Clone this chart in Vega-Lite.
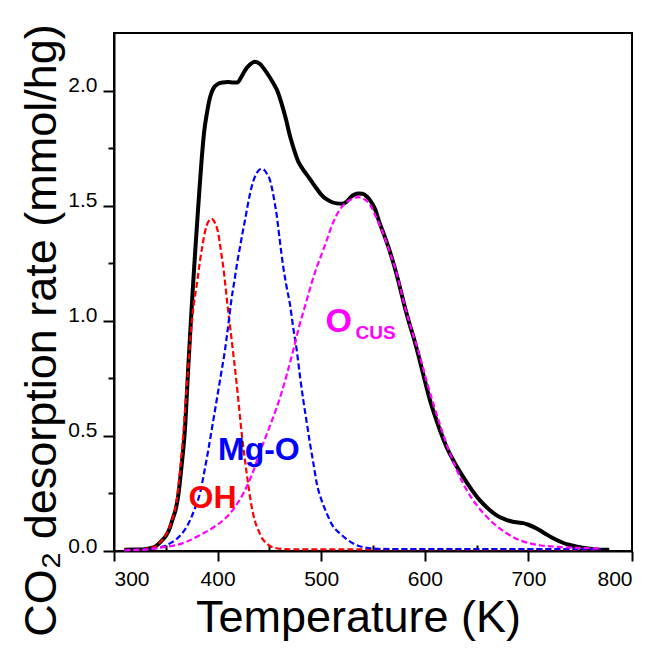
{
  "$schema": "https://vega.github.io/schema/vega-lite/v6.json",
  "width": 518,
  "height": 518,
  "autosize": "none",
  "padding": {"left": 114, "top": 33, "right": 20, "bottom": 97},
  "background": "white",
  "config": {"view": {"stroke": "black", "strokeWidth": 2}, "font": "Liberation Sans"},
  "datasets": {
    "total": [
      {"T":310,"rate":0.005},{"T":320,"rate":0.006},{"T":330,"rate":0.008},{"T":335,"rate":0.012},{"T":340,"rate":0.02},{"T":345,"rate":0.04},{"T":350,"rate":0.065},{"T":353,"rate":0.09},{"T":356,"rate":0.13},{"T":360,"rate":0.19},{"T":362,"rate":0.24},{"T":365,"rate":0.36},{"T":368.5,"rate":0.53},{"T":371.7,"rate":0.8},{"T":375,"rate":1.06},{"T":377.5,"rate":1.24},{"T":380,"rate":1.41},{"T":382.3,"rate":1.56},{"T":384.6,"rate":1.7},{"T":387,"rate":1.82},{"T":390,"rate":1.91},{"T":393,"rate":1.975},{"T":396,"rate":2.01},{"T":400,"rate":2.028},{"T":405,"rate":2.035},{"T":410,"rate":2.037},{"T":415,"rate":2.035},{"T":419,"rate":2.035},{"T":423,"rate":2.06},{"T":426.5,"rate":2.088},{"T":431,"rate":2.112},{"T":436,"rate":2.125},{"T":441,"rate":2.115},{"T":445,"rate":2.093},{"T":450,"rate":2.06},{"T":454,"rate":2.03},{"T":458,"rate":1.995},{"T":462,"rate":1.94},{"T":466,"rate":1.875},{"T":470,"rate":1.8},{"T":474,"rate":1.74},{"T":478,"rate":1.69},{"T":482,"rate":1.66},{"T":486,"rate":1.635},{"T":490,"rate":1.61},{"T":495,"rate":1.578},{"T":500,"rate":1.548},{"T":505,"rate":1.528},{"T":510,"rate":1.516},{"T":515,"rate":1.51},{"T":520,"rate":1.508},{"T":524,"rate":1.515},{"T":528,"rate":1.535},{"T":532,"rate":1.548},{"T":536,"rate":1.553},{"T":540,"rate":1.552},{"T":544,"rate":1.54},{"T":548,"rate":1.518},{"T":552,"rate":1.485},{"T":556,"rate":1.43},{"T":561,"rate":1.37},{"T":566,"rate":1.305},{"T":571,"rate":1.23},{"T":576,"rate":1.145},{"T":581,"rate":1.055},{"T":585,"rate":0.99},{"T":590,"rate":0.915},{"T":595,"rate":0.83},{"T":600,"rate":0.74},{"T":605,"rate":0.655},{"T":610,"rate":0.585},{"T":615,"rate":0.52},{"T":621,"rate":0.452},{"T":628,"rate":0.39},{"T":637,"rate":0.322},{"T":645,"rate":0.268},{"T":653,"rate":0.221},{"T":661,"rate":0.185},{"T":669,"rate":0.156},{"T":677,"rate":0.138},{"T":685,"rate":0.127},{"T":690,"rate":0.124},{"T":695,"rate":0.121},{"T":700,"rate":0.114},{"T":708,"rate":0.098},{"T":716,"rate":0.076},{"T":724,"rate":0.055},{"T":732,"rate":0.038},{"T":740,"rate":0.026},{"T":748,"rate":0.018},{"T":756,"rate":0.012},{"T":766,"rate":0.007},{"T":778,"rate":0.005}
    ],
    "components": [
      {"series":"OH","T":310,"rate":0.005},{"series":"OH","T":320,"rate":0.006},{"series":"OH","T":330,"rate":0.009},{"series":"OH","T":335,"rate":0.013},{"series":"OH","T":339.6,"rate":0.019},{"series":"OH","T":345,"rate":0.04},{"series":"OH","T":350.9,"rate":0.077},{"series":"OH","T":355,"rate":0.12},{"series":"OH","T":360.5,"rate":0.221},{"series":"OH","T":364,"rate":0.36},{"series":"OH","T":366.9,"rate":0.51},{"series":"OH","T":369,"rate":0.64},{"series":"OH","T":371.7,"rate":0.8},{"series":"OH","T":374.2,"rate":0.95},{"series":"OH","T":377,"rate":1.07},{"series":"OH","T":380,"rate":1.16},{"series":"OH","T":383,"rate":1.26},{"series":"OH","T":385.5,"rate":1.33},{"series":"OH","T":388,"rate":1.39},{"series":"OH","T":391,"rate":1.43},{"series":"OH","T":394.3,"rate":1.443},{"series":"OH","T":397.5,"rate":1.425},{"series":"OH","T":400.7,"rate":1.378},{"series":"OH","T":403,"rate":1.31},{"series":"OH","T":405.5,"rate":1.233},{"series":"OH","T":409.5,"rate":1.07},{"series":"OH","T":413.5,"rate":0.92},{"series":"OH","T":418.4,"rate":0.727},{"series":"OH","T":423.3,"rate":0.51},{"series":"OH","T":428.1,"rate":0.337},{"series":"OH","T":432.9,"rate":0.192},{"series":"OH","T":436,"rate":0.13},{"series":"OH","T":439.3,"rate":0.091},{"series":"OH","T":443,"rate":0.055},{"series":"OH","T":447.4,"rate":0.033},{"series":"OH","T":452,"rate":0.018},{"series":"OH","T":457,"rate":0.012},{"series":"OH","T":465,"rate":0.008},{"series":"OH","T":480,"rate":0.007},{"series":"OH","T":600,"rate":0.007},{"series":"OH","T":770,"rate":0.007},
      {"series":"MgO","T":310,"rate":0.004},{"series":"MgO","T":330,"rate":0.007},{"series":"MgO","T":341,"rate":0.012},{"series":"MgO","T":348,"rate":0.02},{"series":"MgO","T":354,"rate":0.033},{"series":"MgO","T":360,"rate":0.05},{"series":"MgO","T":365,"rate":0.073},{"series":"MgO","T":370.2,"rate":0.105},{"series":"MgO","T":375,"rate":0.15},{"series":"MgO","T":379,"rate":0.196},{"series":"MgO","T":383,"rate":0.25},{"series":"MgO","T":387,"rate":0.34},{"series":"MgO","T":391,"rate":0.438},{"series":"MgO","T":395,"rate":0.545},{"series":"MgO","T":399.1,"rate":0.655},{"series":"MgO","T":403,"rate":0.76},{"series":"MgO","T":407.1,"rate":0.872},{"series":"MgO","T":410,"rate":0.97},{"series":"MgO","T":413,"rate":1.08},{"series":"MgO","T":416.8,"rate":1.19},{"series":"MgO","T":419,"rate":1.255},{"series":"MgO","T":421.6,"rate":1.32},{"series":"MgO","T":424,"rate":1.38},{"series":"MgO","T":426.4,"rate":1.436},{"series":"MgO","T":429,"rate":1.5},{"series":"MgO","T":431.3,"rate":1.552},{"series":"MgO","T":434,"rate":1.6},{"series":"MgO","T":437,"rate":1.635},{"series":"MgO","T":440,"rate":1.655},{"series":"MgO","T":442.6,"rate":1.66},{"series":"MgO","T":445,"rate":1.655},{"series":"MgO","T":447.5,"rate":1.64},{"series":"MgO","T":450.6,"rate":1.61},{"series":"MgO","T":453,"rate":1.565},{"series":"MgO","T":455,"rate":1.515},{"series":"MgO","T":457,"rate":1.46},{"series":"MgO","T":460,"rate":1.35},{"series":"MgO","T":463.4,"rate":1.233},{"series":"MgO","T":466.5,"rate":1.15},{"series":"MgO","T":469.9,"rate":1.07},{"series":"MgO","T":473,"rate":0.97},{"series":"MgO","T":476.4,"rate":0.872},{"series":"MgO","T":479.5,"rate":0.76},{"series":"MgO","T":482.7,"rate":0.655},{"series":"MgO","T":486,"rate":0.56},{"series":"MgO","T":489.2,"rate":0.467},{"series":"MgO","T":492.5,"rate":0.38},{"series":"MgO","T":495.7,"rate":0.294},{"series":"MgO","T":500,"rate":0.225},{"series":"MgO","T":505.3,"rate":0.164},{"series":"MgO","T":511,"rate":0.11},{"series":"MgO","T":518,"rate":0.077},{"series":"MgO","T":525,"rate":0.05},{"series":"MgO","T":534,"rate":0.026},{"series":"MgO","T":541,"rate":0.016},{"series":"MgO","T":547,"rate":0.012},{"series":"MgO","T":560,"rate":0.009},{"series":"MgO","T":600,"rate":0.008},{"series":"MgO","T":770,"rate":0.008},
      {"series":"OCUS","T":310,"rate":0.003},{"series":"OCUS","T":330,"rate":0.006},{"series":"OCUS","T":341,"rate":0.012},{"series":"OCUS","T":350,"rate":0.018},{"series":"OCUS","T":360.5,"rate":0.026},{"series":"OCUS","T":370,"rate":0.04},{"series":"OCUS","T":383,"rate":0.069},{"series":"OCUS","T":395,"rate":0.1},{"series":"OCUS","T":405.5,"rate":0.134},{"series":"OCUS","T":415,"rate":0.18},{"series":"OCUS","T":424.8,"rate":0.25},{"series":"OCUS","T":433,"rate":0.33},{"series":"OCUS","T":440.9,"rate":0.43},{"series":"OCUS","T":446,"rate":0.49},{"series":"OCUS","T":450.6,"rate":0.545},{"series":"OCUS","T":456,"rate":0.61},{"series":"OCUS","T":461.9,"rate":0.69},{"series":"OCUS","T":467,"rate":0.77},{"series":"OCUS","T":473,"rate":0.872},{"series":"OCUS","T":479,"rate":0.98},{"series":"OCUS","T":486,"rate":1.089},{"series":"OCUS","T":490.5,"rate":1.16},{"series":"OCUS","T":495.7,"rate":1.233},{"series":"OCUS","T":500.5,"rate":1.29},{"series":"OCUS","T":505.3,"rate":1.349},{"series":"OCUS","T":510,"rate":1.41},{"series":"OCUS","T":515,"rate":1.46},{"series":"OCUS","T":520,"rate":1.495},{"series":"OCUS","T":524.6,"rate":1.515},{"series":"OCUS","T":530,"rate":1.53},{"series":"OCUS","T":535.8,"rate":1.537},{"series":"OCUS","T":541,"rate":1.53},{"series":"OCUS","T":547,"rate":1.505},{"series":"OCUS","T":553,"rate":1.45},{"series":"OCUS","T":560,"rate":1.378},{"series":"OCUS","T":566,"rate":1.3},{"series":"OCUS","T":572.9,"rate":1.205},{"series":"OCUS","T":577,"rate":1.13},{"series":"OCUS","T":580.9,"rate":1.06},{"series":"OCUS","T":588,"rate":0.95},{"series":"OCUS","T":595,"rate":0.85},{"series":"OCUS","T":601,"rate":0.75},{"series":"OCUS","T":608.2,"rate":0.64},{"series":"OCUS","T":616,"rate":0.53},{"series":"OCUS","T":624.3,"rate":0.424},{"series":"OCUS","T":632,"rate":0.34},{"series":"OCUS","T":640.4,"rate":0.265},{"series":"OCUS","T":650,"rate":0.2},{"series":"OCUS","T":659.7,"rate":0.149},{"series":"OCUS","T":669,"rate":0.11},{"series":"OCUS","T":679,"rate":0.077},{"series":"OCUS","T":690,"rate":0.05},{"series":"OCUS","T":701.5,"rate":0.033},{"series":"OCUS","T":712,"rate":0.024},{"series":"OCUS","T":724,"rate":0.019},{"series":"OCUS","T":735,"rate":0.016},{"series":"OCUS","T":746.6,"rate":0.014},{"series":"OCUS","T":758,"rate":0.012},{"series":"OCUS","T":770.7,"rate":0.01}
    ],
    "labelOH": [{"T":372,"rate":0.187,"text":"OH"}],
    "labelMgO": [{"T":400.4,"rate":0.395,"text":"Mg-O"}],
    "labelO": [{"T":504.2,"rate":0.95,"text":"O"}],
    "labelCUS": [{"T":533.2,"rate":0.922,"text":"CUS"}]
  },
  "encoding": {
    "x": {
      "field": "T", "type": "quantitative",
      "scale": {"domain": [300, 800], "nice": false, "zero": false},
      "axis": {
        "values": [300,350,400,450,500,550,600,650,700,750,800],
        "format": "d",
        "labelExpr": "datum.value % 100 === 0 ? datum.label : ''",
        "tickSize": {"condition": {"test": "datum.value % 100 !== 0", "value": -6}, "value": 10},
        "tickWidth": 2, "tickColor": "black",
        "domainColor": "black", "domainWidth": 2,
        "labelFontSize": 21, "labelColor": "black", "labelPadding": 7,
        "grid": false,
        "title": "Temperature (K)", "titleFontSize": 45, "titleFontWeight": "normal", "titleColor": "black",
        "titleX": 244, "titleY": 80, "titleBaseline": "alphabetic", "titleAlign": "center"
      }
    },
    "y": {
      "field": "rate", "type": "quantitative",
      "scale": {"domain": [0, 2.25], "nice": false},
      "axis": {
        "values": [0,0.25,0.5,0.75,1,1.25,1.5,1.75,2],
        "format": ".1f",
        "labelExpr": "datum.value % 0.5 === 0 ? datum.label : ''",
        "tickSize": {"condition": {"test": "datum.value % 0.5 !== 0", "value": 6}, "value": 11},
        "tickWidth": 2, "tickColor": "black",
        "domainColor": "black", "domainWidth": 2,
        "labelFontSize": 21, "labelColor": "black", "labelPadding": 6, "labelOffset": -5,
        "grid": false,
        "title": "CO₂ desorption rate (mmol/hg)", "titleFontSize": 45, "titleFontWeight": "normal", "titleColor": "black",
        "titleX": -59, "titleY": 297, "titleAngle": 270, "titleBaseline": "alphabetic", "titleAlign": "center"
      }
    }
  },
  "layer": [
    {
      "data": {"name": "total"},
      "mark": {"type": "line", "color": "black", "strokeWidth": 4, "interpolate": "monotone"}
    },
    {
      "data": {"name": "components"},
      "mark": {"type": "line", "strokeWidth": 2.2, "strokeDash": [6, 3], "interpolate": "monotone"},
      "encoding": {
        "color": {"field": "series", "type": "nominal", "scale": {"domain": ["OH", "MgO", "OCUS"], "range": ["#ff0000", "#0000ff", "#ff00ff"]}, "legend": null},
        "detail": {"field": "series"}
      }
    },
    {
      "data": {"name": "labelOH"},
      "mark": {"type": "text", "align": "left", "baseline": "alphabetic", "fontSize": 32, "fontWeight": "bold", "color": "#ff0000"},
      "encoding": {"text": {"field": "text"}}
    },
    {
      "data": {"name": "labelMgO"},
      "mark": {"type": "text", "align": "left", "baseline": "alphabetic", "fontSize": 32, "fontWeight": "bold", "color": "#0000ff"},
      "encoding": {"text": {"field": "text"}}
    },
    {
      "data": {"name": "labelO"},
      "mark": {"type": "text", "align": "left", "baseline": "alphabetic", "fontSize": 34, "fontWeight": "bold", "color": "#ff00ff"},
      "encoding": {"text": {"field": "text"}}
    },
    {
      "data": {"name": "labelCUS"},
      "mark": {"type": "text", "align": "left", "baseline": "alphabetic", "fontSize": 19, "fontWeight": "bold", "color": "#ff00ff"},
      "encoding": {"text": {"field": "text"}}
    }
  ]
}
